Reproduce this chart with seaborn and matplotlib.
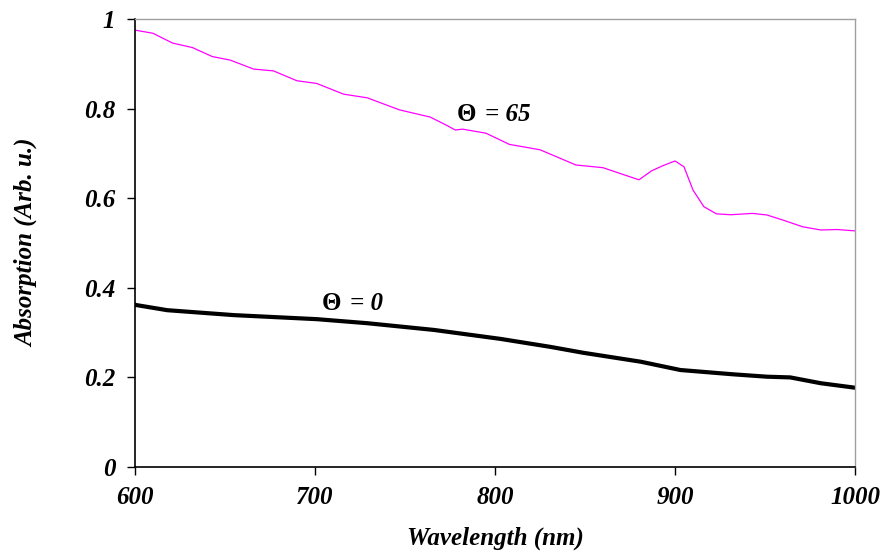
import matplotlib
matplotlib.use("Agg")
import matplotlib.pyplot as plt
import numpy as np
import pandas as pd
import seaborn as sns

# theta = 65 curve (magenta)
wl_65 = [600, 610, 621, 632, 643, 653, 666, 677, 690, 701, 716, 729, 747, 764,
         773, 778, 782, 795, 808, 825, 845, 860, 871, 880, 887, 893, 900, 905,
         910, 916, 923, 931, 943, 951, 960, 971, 981, 990, 1000]
abs_65 = [0.975, 0.968, 0.946, 0.936, 0.916, 0.908, 0.888, 0.884, 0.862, 0.856,
          0.832, 0.824, 0.797, 0.781, 0.763, 0.752, 0.754, 0.745, 0.720, 0.708,
          0.674, 0.668, 0.653, 0.641, 0.661, 0.672, 0.683, 0.670, 0.618, 0.581,
          0.565, 0.563, 0.566, 0.5625, 0.551, 0.536, 0.529, 0.530, 0.527]

# theta = 0 curve (black)
wl_0 = [600, 618, 655, 701, 729, 766, 803, 831, 849, 881, 903, 932, 951, 964, 981, 1000]
abs_0 = [0.362, 0.350, 0.339, 0.330, 0.321, 0.306, 0.286, 0.268, 0.255, 0.235,
         0.2165, 0.207, 0.2016, 0.200, 0.187, 0.177]

x_ticks = [600, 700, 800, 900, 1000]
y_ticks = [0, 0.2, 0.4, 0.6, 0.8, 1]

sns.set_style("white")
plt.rcParams["font.family"] = ["Liberation Serif", "DejaVu Serif"]
plt.rcParams["font.weight"] = "bold"
plt.rcParams["font.style"] = "italic"
for k in ["text.color", "axes.labelcolor", "xtick.color", "ytick.color"]:
    plt.rcParams[k] = "black"

fig = plt.figure(figsize=(8.87, 5.56), dpi=100)
ax = fig.add_axes([0.152, 0.160, 0.812, 0.806])

df65 = pd.DataFrame({"wl": wl_65, "a": abs_65})
df0 = pd.DataFrame({"wl": wl_0, "a": abs_0})
sns.lineplot(data=df65, x="wl", y="a", ax=ax, color="#ff00ff", linewidth=0.9)
sns.lineplot(data=df0, x="wl", y="a", ax=ax, color="black", linewidth=3.0)

ax.set_xlim(600, 1000)
ax.set_ylim(0, 1)
ax.set_xticks(x_ticks)
ax.set_xticklabels([str(v) for v in x_ticks])
ax.set_yticks(y_ticks)
ax.set_yticklabels(["0", "0.2", "0.4", "0.6", "0.8", "1"])

for s in ["left", "bottom"]:
    ax.spines[s].set_color("black")
    ax.spines[s].set_linewidth(1.2)
for s in ["top", "right"]:
    ax.spines[s].set_color("#a0a0a0")
    ax.spines[s].set_linewidth(1.0)

ax.tick_params(axis="both", direction="out", length=6, width=1, color="black",
               labelsize=18, pad=8, left=True, bottom=True)
for lbl in ax.get_xticklabels() + ax.get_yticklabels():
    lbl.set_fontweight("bold")
    lbl.set_fontstyle("italic")

ax.set_xlabel("Wavelength (nm)", fontsize=18, fontweight="bold", style="italic", labelpad=12)
ax.set_ylabel("Absorption (Arb. u.)", fontsize=18, fontweight="bold", style="italic", labelpad=33)

# curve labels: upright theta followed by italic text
for xw, yv, rest in [(779, 0.786, "= 65"), (704, 0.366, "= 0")]:
    ax.text(xw, yv, "Θ", fontsize=18, fontweight="bold", style="normal", va="center", ha="left")
    ax.annotate(rest, (xw, yv), xytext=(20, 0), textcoords="offset points",
                fontsize=18, fontweight="bold", style="italic", va="center", ha="left")

fig.savefig("out.png", dpi=100)
